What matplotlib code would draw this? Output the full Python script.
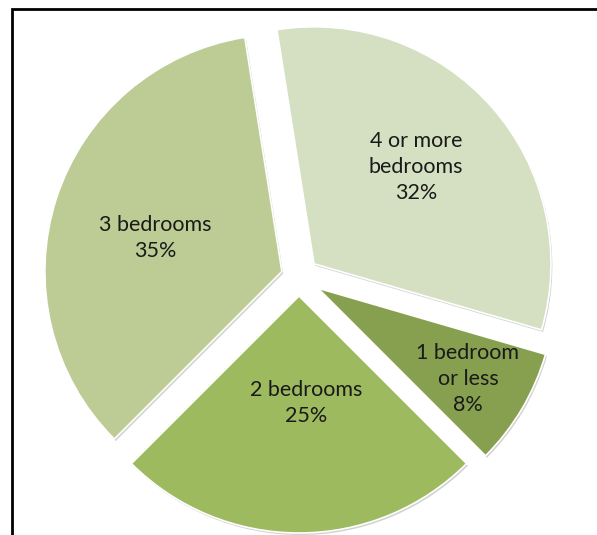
import matplotlib
matplotlib.use("Agg")
import matplotlib.pyplot as plt
import matplotlib.patheffects as pe

categories = ["4 or more\nbedrooms", "1 bedroom\nor less", "2 bedrooms", "3 bedrooms"]
values = [32, 8, 25, 35]
colors = ["#D5E0C2", "#87A04F", "#9EBA5F", "#BCCC94"]
explode_px = [20, 22, 19, 18]

W, H = 597, 535
fig = plt.figure(figsize=(W / 100, H / 100), dpi=100)
ax = fig.add_axes([0, 0, 1, 1])

cx, cy, R = 299, H - 277, 237
wedges, _ = ax.pie(values, startangle=99, counterclock=False, colors=colors,
                   center=(cx, cy), radius=R, explode=explode_px,
                   frame=True,
                   wedgeprops=dict(edgecolor="white", linewidth=1.2))
for w in wedges:
    w.set_path_effects([pe.SimplePatchShadow(offset=(1, -1.5), shadow_rgbFace="#808080", alpha=0.35),
                        pe.Normal()])

label_pos = [(416, 167), (468, 379), (306, 403), (155, 238)]
for (x, y), cat, v in zip(label_pos, categories, values):
    ax.text(x, H - y, f"{cat}\n{v}%", ha="center", va="center", fontsize=15.5,
            family="Lato", color="#1a1a1a", linespacing=1.35)

# frame border
ax.plot([12, 12, 605], [-10, H - 9, H - 9], color="black", lw=2, solid_joinstyle="miter", clip_on=False)

ax.set_xlim(0, W)
ax.set_ylim(0, H)
ax.set_aspect("equal")
ax.axis("off")
fig.savefig("out.png", dpi=100)
